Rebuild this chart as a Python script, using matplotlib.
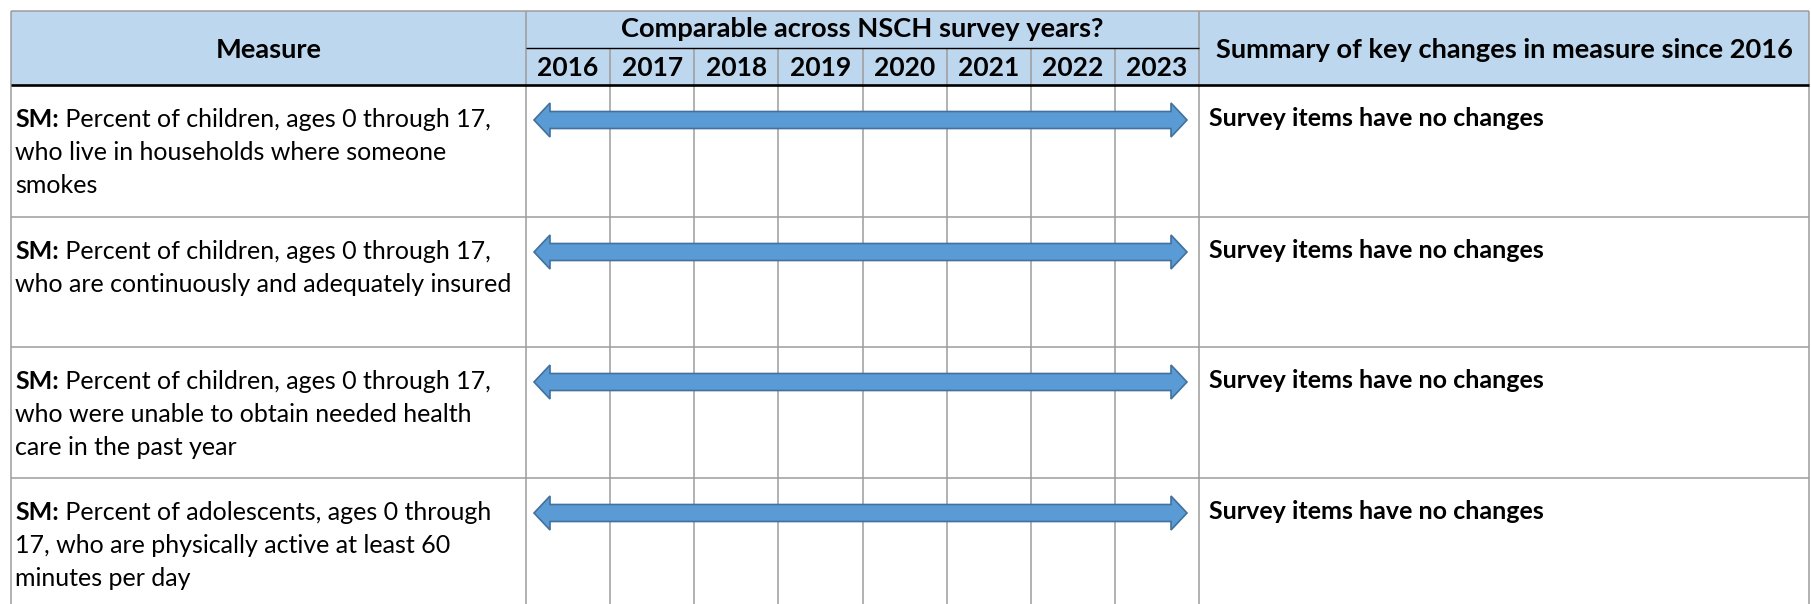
import matplotlib
matplotlib.use("Agg")
import matplotlib.pyplot as plt
from matplotlib.patches import Rectangle, Polygon

# ---------------- data ----------------
years = [2016, 2017, 2018, 2019, 2020, 2021, 2022, 2023]
measure_prefix = ["SM:", "SM:", "SM:", "SM:"]
measure_text = [
    "Percent of children, ages 0 through 17,\nwho live in households where someone\nsmokes",
    "Percent of children, ages 0 through 17,\nwho are continuously and adequately insured",
    "Percent of children, ages 0 through 17,\nwho were unable to obtain needed health\ncare in the past year",
    "Percent of adolescents, ages 0 through\n17, who are physically active at least 60\nminutes per day",
]
comparable_start = [2016, 2016, 2016, 2016]
comparable_end = [2023, 2023, 2023, 2023]
summaries = ["Survey items have no changes"] * 4
header_measure = "Measure"
header_comparable = "Comparable across NSCH survey years?"
header_summary = "Summary of key changes in measure since 2016"

# ---------------- layout (pixels) ----------------
W, H = 1811, 604
X_LEFT, X_MEAS, X_RIGHT = 11, 526, 1809
YEAR_W = (1199 - X_MEAS) / len(years)
X_SUM = X_MEAS + YEAR_W * len(years)
Y_TOP, Y_MID, Y_HEAD = 11, 48, 85
row_heights = [132, 130, 131, 132]
row_tops = [Y_HEAD]
for h in row_heights:
    row_tops.append(row_tops[-1] + h)

HEAD_FILL = "#BDD7EE"
GRID = "#9C9C9C"
ARROW_FACE = "#5B9BD5"
ARROW_EDGE = "#41719C"
FS = 18.0
FS_HEAD = 19.6
FS_YEAR = 19.0
LINE_PITCH = 33

plt.rcParams["font.family"] = ["Lato", "DejaVu Sans"]

fig = plt.figure(figsize=(W / 100, H / 100), dpi=100)
ax = fig.add_axes([0, 0, 1, 1])
ax.set_xlim(0, W)
ax.set_ylim(H, 0)
ax.axis("off")

def col_left(year):
    return X_MEAS + YEAR_W * years.index(year)

# header fill
ax.add_patch(Rectangle((X_LEFT, Y_TOP), X_RIGHT - X_LEFT, Y_HEAD - Y_TOP,
                       facecolor=HEAD_FILL, edgecolor="none", zorder=0))

def hline(y, x0, x1, color=GRID, lw=1.1, z=1):
    ax.plot([x0, x1], [y, y], color=color, lw=lw, solid_capstyle="butt", zorder=z)

def vline(x, y0, y1, color=GRID, lw=1.1, z=1):
    ax.plot([x, x], [y0, y1], color=color, lw=lw, solid_capstyle="butt", zorder=z)

# outer / column lines
hline(Y_TOP, X_LEFT, X_RIGHT)
vline(X_LEFT, Y_TOP, H + 2)
vline(X_RIGHT, Y_TOP, H + 2)
vline(X_MEAS, Y_TOP, H + 2)
vline(X_SUM, Y_TOP, H + 2)
for i in range(1, len(years)):
    vline(X_MEAS + YEAR_W * i, Y_MID, H + 2)
hline(Y_MID, X_MEAS, X_SUM, color="black", lw=1.0, z=2)
for rt in row_tops[1:-1]:
    hline(rt, X_LEFT, X_RIGHT)
hline(Y_HEAD, X_LEFT, X_RIGHT, color="black", lw=1.9, z=3)

# header texts
ax.text((X_LEFT + X_MEAS) / 2, 57.5, header_measure, ha="center", va="baseline",
        fontsize=FS_HEAD, fontweight="bold")
ax.text((X_MEAS + X_SUM) / 2, 37, header_comparable, ha="center", va="baseline",
        fontsize=FS_HEAD, fontweight="bold")
for i, yr in enumerate(years):
    ax.text(X_MEAS + YEAR_W * (i + 0.5), 75.5, str(yr), ha="center", va="baseline",
            fontsize=FS_YEAR, fontweight="bold")
ax.text((X_SUM + X_RIGHT) / 2, 57.5, header_summary, ha="center", va="baseline",
        fontsize=FS_HEAD, fontweight="bold")

renderer = fig.canvas.get_renderer()
inv = ax.transData.inverted()

for r in range(len(measure_text)):
    top = row_tops[r]
    base = top + 42
    lines = measure_text[r].split("\n")
    tb = ax.text(15, base, measure_prefix[r], ha="left", va="baseline",
                 fontsize=FS, fontweight="bold")
    bb = tb.get_window_extent(renderer=renderer)
    x_after = inv.transform((bb.x1, bb.y0))[0]
    ax.text(x_after, base, " " + lines[0], ha="left", va="baseline", fontsize=FS)
    for j, ln in enumerate(lines[1:], start=1):
        ax.text(15, base + j * LINE_PITCH, ln, ha="left", va="baseline", fontsize=FS)

    # summary
    ax.text(X_SUM + 10, base - 1, summaries[r], ha="left", va="baseline",
            fontsize=FS, fontweight="bold")

    # double arrow for comparable span
    x0 = col_left(comparable_start[r]) + 8
    x1 = col_left(comparable_end[r]) + YEAR_W - 12
    yc = top + 35
    hl, hh, sh = 16, 17, 8.5
    verts = [(x0, yc), (x0 + hl, yc - hh), (x0 + hl, yc - sh), (x1 - hl, yc - sh),
             (x1 - hl, yc - hh), (x1, yc), (x1 - hl, yc + hh), (x1 - hl, yc + sh),
             (x0 + hl, yc + sh), (x0 + hl, yc + hh)]
    ax.add_patch(Polygon(verts, closed=True, facecolor=ARROW_FACE,
                         edgecolor=ARROW_EDGE, lw=1.2, zorder=5, joinstyle="miter"))

fig.savefig("out.png", dpi=100)
